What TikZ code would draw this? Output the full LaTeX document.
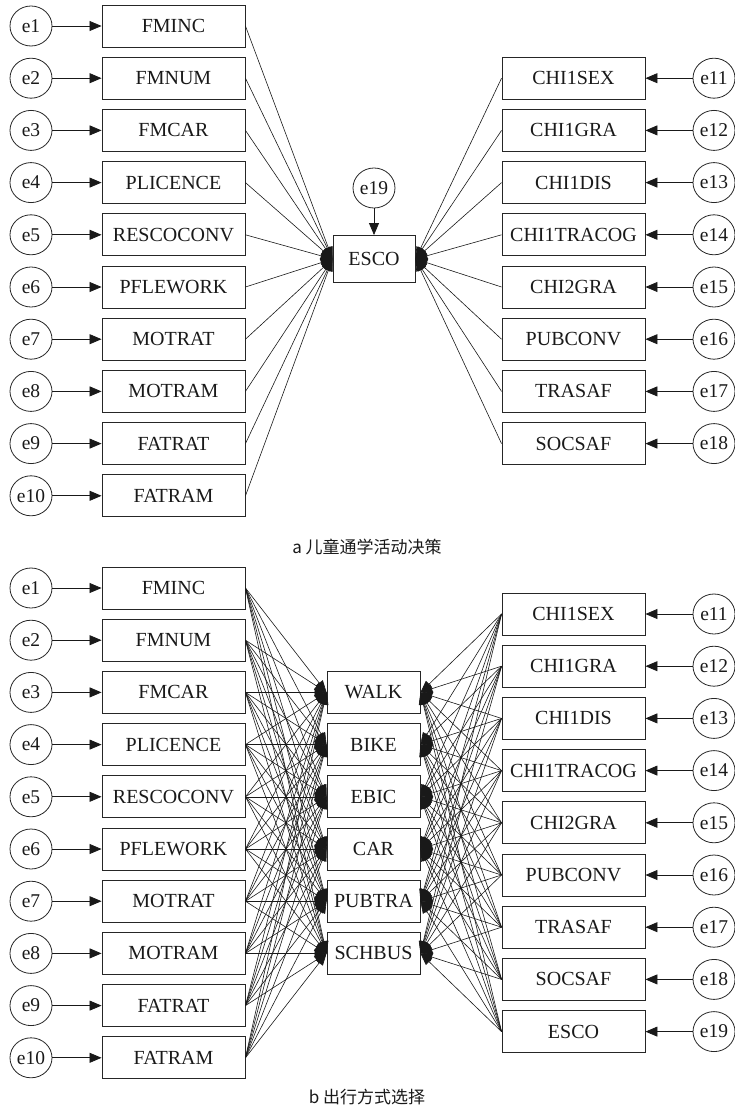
\documentclass[tikz,border=0pt]{standalone}
\usepackage{fontspec}
\setmainfont{Liberation Serif}
\newfontfamily\cjk{Noto Sans CJK SC}
\usetikzlibrary{arrows.meta,shapes.geometric}
\begin{document}
\begin{tikzpicture}[x=1pt,y=-1pt,
  var/.style={draw=black!85, line width=0.9pt, minimum width=143pt, minimum height=42pt, inner sep=0pt, text=black!90, font=\fontsize{20}{20}\selectfont},
  midbox/.style={var, minimum width=93pt},
  err/.style={draw=black!85, line width=0.8pt, ellipse, minimum width=42pt, minimum height=40pt, inner sep=0pt, text=black!90, font=\fontsize{19.5}{19.5}\selectfont},
  earr/.style={line width=0.8pt, draw=black!90, -{Triangle[length=12pt,width=10pt]}},
  conn/.style={line width=0.6pt, draw=black!90, -{Triangle[length=12pt,width=9pt]}},
  captxt/.style={text=black!90, font=\cjk\fontsize{17}{17}\selectfont}
]
\useasboundingbox (0,0) rectangle (734,1118);
% ---------- part a ----------
\node[var, minimum width=82pt, minimum height=47pt] (escoa) at (374,259) {ESCO};
\node[err] (ea19) at (374,188) {e19};
\draw[earr] (ea19) -- (escoa);
\foreach \t [count=\i] in {FMINC,FMNUM,FMCAR,PLICENCE,RESCOCONV,PFLEWORK,MOTRAT,MOTRAM,FATRAT,FATRAM} {
  \pgfmathsetmacro\yy{26+52.2*(\i-1)}
  \node[var] (la\i) at (173.5,\yy) {\t};
  \node[err] (ea\i) at (31,\yy) {e\i};
  \draw[earr] (ea\i) -- (la\i);
  \draw[conn] (la\i.east) -- (escoa.west);
}
\foreach \t [count=\j] in {CHI1SEX,CHI1GRA,CHI1DIS,CHI1TRACOG,CHI2GRA,PUBCONV,TRASAF,SOCSAF} {
  \pgfmathsetmacro\yy{78.2+52.2*(\j-1)}
  \pgfmathtruncatemacro\k{\j+10}
  \node[var] (ra\j) at (573.5,\yy) {\t};
  \node[err] (ea\k) at (714,\yy) {e\k};
  \draw[earr] (ea\k) -- (ra\j);
  \draw[conn] (ra\j.west) -- (escoa.east);
}
\node[captxt] (capa) at (367,547) {a 儿童通学活动决策};
% ---------- part b ----------
\foreach \t [count=\m] in {WALK,BIKE,EBIC,CAR,PUBTRA,SCHBUS} {
  \pgfmathsetmacro\yy{692.4+52.2*(\m-1)}
  \node[midbox] (mb\m) at (373.5,\yy) {\t};
}
\foreach \t [count=\i] in {FMINC,FMNUM,FMCAR,PLICENCE,RESCOCONV,PFLEWORK,MOTRAT,MOTRAM,FATRAT,FATRAM} {
  \pgfmathsetmacro\yy{588+52.2*(\i-1)}
  \node[var] (lb\i) at (173.5,\yy) {\t};
  \node[err] (eb\i) at (31,\yy) {e\i};
  \draw[earr] (eb\i) -- (lb\i);
  \foreach \m in {1,...,6} { \draw[conn] (lb\i.east) -- (mb\m.west); }
}
\foreach \t [count=\j] in {CHI1SEX,CHI1GRA,CHI1DIS,CHI1TRACOG,CHI2GRA,PUBCONV,TRASAF,SOCSAF,ESCO} {
  \pgfmathsetmacro\yy{614+52.2*(\j-1)}
  \pgfmathtruncatemacro\k{\j+10}
  \node[var] (rb\j) at (573.5,\yy) {\t};
  \node[err] (eb\k) at (714,\yy) {e\k};
  \draw[earr] (eb\k) -- (rb\j);
  \foreach \m in {1,...,6} { \draw[conn] (rb\j.west) -- (mb\m.east); }
}
\node[captxt] (capb) at (367,1097) {b 出行方式选择};
\end{tikzpicture}
\end{document}
